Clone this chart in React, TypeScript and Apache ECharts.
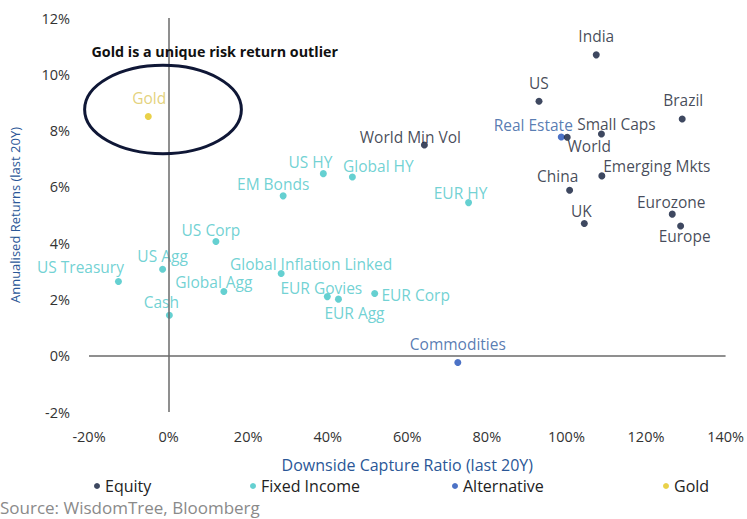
import React, { useEffect, useRef } from "react";
import * as echarts from "echarts";

// ---- Data (x = Downside Capture Ratio %, y = Annualised Returns %) ----
const equityNames = ["India", "US", "Brazil", "Small Caps", "World", "World Min Vol", "Emerging Mkts", "China", "UK", "Eurozone", "Europe"];
const equityX = [107.5, 93.1, 129.1, 108.8, 100.2, 64.3, 108.9, 100.8, 104.5, 126.6, 128.7];
const equityY = [10.69, 9.04, 8.41, 7.88, 7.76, 7.49, 6.39, 5.88, 4.70, 5.03, 4.61];

const fixedNames = ["US HY", "Global HY", "EM Bonds", "US Corp", "EUR HY", "US Agg", "US Treasury", "Global Agg", "Cash", "Global Inflation Linked", "EUR Govies", "EUR Agg", "EUR Corp"];
const fixedX = [38.9, 46.2, 28.8, 11.9, 75.4, -1.5, -12.6, 13.9, 0.2, 28.3, 39.9, 42.7, 51.8];
const fixedY = [6.47, 6.35, 5.68, 4.06, 5.44, 3.07, 2.64, 2.28, 1.44, 2.92, 2.10, 2.01, 2.21];

const altNames = ["Real Estate", "Commodities"];
const altX = [98.7, 72.7];
const altY = [7.77, -0.24];

const goldNames = ["Gold"];
const goldX = [-5.1];
const goldY = [8.5];

const xTicks = { min: -20, max: 140, interval: 20 };
const yTicks = { min: -2, max: 12, interval: 2 };

// ---- Layout: label offsets (pixels, label centre relative to point) ----
const labelOffsets: Record<string, [number, number]> = {
  India: [0, -19],
  US: [0, -18],
  Brazil: [1, -19],
  "Small Caps": [15, -10],
  World: [22, 9],
  "World Min Vol": [-14, -8],
  "Emerging Mkts": [55, -10],
  China: [-12, -14],
  UK: [-3, -12],
  Eurozone: [-1, -12],
  Europe: [4, 10],
  "US HY": [-13, -12],
  "Global HY": [26, -11],
  "EM Bonds": [-10, -12],
  "US Corp": [-5, -11],
  "EUR HY": [-8, -10],
  "US Agg": [0, -13],
  "US Treasury": [-38, -14],
  "Global Agg": [-10, -10],
  Cash: [-8, -13],
  "Global Inflation Linked": [30, -10],
  "EUR Govies": [-6, -9],
  "EUR Agg": [16, 14],
  "EUR Corp": [41, 1],
  "Real Estate": [-28, -12],
  Commodities: [0, -18],
  Gold: [1, -19],
};

const FONT = "'Open Sans', sans-serif";

function buildData(names: string[], xs: number[], ys: number[], labelColor: string) {
  return names.map((n, i) => ({
    name: n,
    value: [xs[i], ys[i]],
    label: {
      show: true,
      position: "inside",
      formatter: n,
      offset: labelOffsets[n] || [0, -14],
      color: labelColor,
      fontSize: 15.5,
      fontFamily: FONT,
    },
  }));
}

export default function App() {
  const ref = useRef<HTMLDivElement>(null);

  useEffect(() => {
    document.body.style.margin = "0";
    if (!ref.current) return;
    const chart = echarts.init(ref.current, undefined, { renderer: "svg" });

    const mkLegend = (name: string, left: number) => ({
      data: [name],
      left,
      top: 473,
      icon: "circle",
      itemWidth: 6,
      itemHeight: 6,
      itemGap: 6,
      textStyle: { color: "#222", fontSize: 16, fontFamily: FONT },
      selectedMode: false,
    });

    const option: any = {
      animation: false,
      backgroundColor: "#ffffff",
      grid: { left: 86, right: 21, top: 18, bottom: 107 },
      legend: [
        mkLegend("Equity", 89),
        mkLegend("Fixed Income", 245),
        mkLegend("Alternative", 447),
        mkLegend("Gold", 658),
      ],
      xAxis: {
        type: "value",
        min: xTicks.min,
        max: xTicks.max,
        interval: xTicks.interval,
        axisLine: { show: false },
        axisTick: { show: false },
        splitLine: { show: false },
        axisLabel: { formatter: "{value}%", color: "#333", fontSize: 14.5, fontFamily: FONT, margin: 17 },
        name: "Downside Capture Ratio (last 20Y)",
        nameLocation: "middle",
        nameGap: 45,
        nameTextStyle: { color: "#2b5797", fontSize: 16, fontFamily: FONT },
      },
      yAxis: {
        type: "value",
        min: yTicks.min,
        max: yTicks.max,
        interval: yTicks.interval,
        axisLine: { show: false },
        axisTick: { show: false },
        splitLine: { show: false },
        axisLabel: { formatter: "{value}%", color: "#333", fontSize: 14.5, fontFamily: FONT, margin: 19 },
        name: "Annualised Returns (last 20Y)",
        nameLocation: "middle",
        nameGap: 68,
        nameTextStyle: { color: "#2b5797", fontSize: 13, fontFamily: FONT },
      },
      series: [
        {
          name: "Gold",
          type: "scatter",
          symbolSize: 7,
          itemStyle: { color: "#e3c51c" },
          data: buildData(goldNames, goldX, goldY, "#dcc65a"),
        },
        {
          name: "Fixed Income",
          type: "scatter",
          symbolSize: 7,
          itemStyle: { color: "#3ec4c6" },
          data: buildData(fixedNames, fixedX, fixedY, "#4cc6c8"),
        },
        {
          name: "Alternative",
          type: "scatter",
          symbolSize: 7,
          itemStyle: { color: "#1f4fb8" },
          data: buildData(altNames, altX, altY, "#2e5a9e"),
        },
        {
          name: "Equity",
          type: "scatter",
          symbolSize: 7,
          itemStyle: { color: "#0e1a38" },
          data: buildData(equityNames, equityX, equityY, "#141a30"),
          markLine: {
            silent: true,
            symbol: "none",
            label: { show: false },
            lineStyle: { color: "#6a6a6a", width: 1.5, type: "solid" },
            data: [{ xAxis: 0 }, { yAxis: 0 }],
          },
        },
      ],
    };
    chart.setOption(option);

    // Annotation: ellipse around Gold and caption, positioned in data coordinates
    const ellipseCenter: [number, number] = [-1.4, 8.75];
    const ellipseHalf: [number, number] = [19.7, 1.57];
    const c = chart.convertToPixel({ gridIndex: 0 }, ellipseCenter) as number[];
    const e = chart.convertToPixel({ gridIndex: 0 }, [ellipseCenter[0] + ellipseHalf[0], ellipseCenter[1] + ellipseHalf[1]]) as number[];
    const cap = chart.convertToPixel({ gridIndex: 0 }, [11.6, 10.82]) as number[];

    chart.setOption({
      graphic: [
        {
          type: "ellipse",
          shape: { cx: c[0], cy: c[1], rx: Math.abs(e[0] - c[0]), ry: Math.abs(e[1] - c[1]) },
          style: { fill: "none", stroke: "#0f1736", lineWidth: 3 },
          z: 10,
        },
        {
          type: "text",
          x: cap[0],
          y: cap[1],
          style: {
            text: "Gold is a unique risk return outlier",
            fill: "#111",
            font: `bold 14.3px ${FONT}`,
            align: "center",
            verticalAlign: "middle",
          },
          z: 10,
        },
        {
          type: "text",
          left: 0,
          top: 499,
          style: {
            text: "Source: WisdomTree, Bloomberg",
            fill: "#8a8a8a",
            font: `17px ${FONT}`,
          },
        },
      ],
    });

    return () => chart.dispose();
  }, []);

  return <div ref={ref} style={{ width: 747, height: 519 }} />;
}
